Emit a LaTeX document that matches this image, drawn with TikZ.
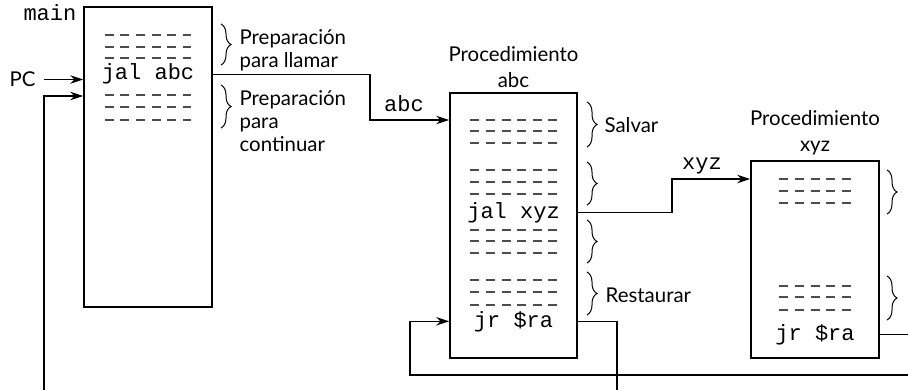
\documentclass[tikz,border=0pt]{standalone}
\usepackage{fontspec}
\setmainfont{Lato}
\setmonofont{Liberation Mono}
\usetikzlibrary{positioning, arrows.meta, decorations.pathreplacing, calc}

\begin{document}
\begin{tikzpicture}[
  x=0.5pt, y=-0.5pt,
  line width=0.65pt,
  every node/.style={inner sep=0pt},
  txt/.style={font=\fontsize{10.2}{11.5}\selectfont, align=left},
  title/.style={font=\fontsize{10.2}{13}\selectfont, align=center},
  code/.style={font=\fontsize{11}{13}\ttfamily},
  prog/.style={
    draw=black, line width=0.75pt, rectangle, minimum width=64pt,
  },
  codedash/.style={draw=black!70, line width=0.65pt,
                   dash pattern=on 4.5pt off 3.3pt},
  grp/.style={decorate, decoration={brace, amplitude=5pt},
              line width=0.5pt},
  arr/.style={-{Stealth[length=6.5pt,width=4.2pt]}},
]
\useasboundingbox (0,0) rectangle (908,390);

% ── Column x-positions (box centres) ───────────────────────────────
\def\cMain{148}
\def\cAbc{513.5}
\def\cXyz{815}

% ── The three code boxes ───────────────────────────────────────────
\node[prog, minimum height=150pt] (mainbox) at (\cMain,157) {};
\node[prog, minimum width=63.5pt, minimum height=132.5pt] (abcbox) at (\cAbc,225.5) {};
\node[prog, minimum height=98.5pt] (xyzbox) at (\cXyz,259.5) {};

\node[title, above=2pt of abcbox] (abctitle) {Procedimiento\\abc};
\node[title, above=2.5pt of xyzbox] (xyztitle) {Procedimiento\\xyz};
\node[code, anchor=base east] (mainlbl) at (77,21) {main};

% ── Instruction lines (dashes stand for code) ──────────────────────
\foreach \yy in {35,47,58,95,107,120}
  \draw[codedash] (\cMain-43.2,\yy) -- ++(86.4,0);
\foreach \yy in {120,131,143,170,182,194,230,241,253,280,292,305}
  \draw[codedash] (\cAbc-43.2,\yy) -- ++(86.4,0);
\foreach \yy in {179,191,203,286,297,310}
  \draw[codedash] (\cXyz-35.7,\yy) -- ++(71.4,0);

\node[code, anchor=base] (jalabc) at (\cMain,80) {jal abc};
\node[code, anchor=base] (jalxyz) at (\cAbc,218) {jal xyz};
\node[code, anchor=base] (jrabc)  at (\cAbc,327) {jr \$ra};
\node[code, anchor=base] (jrxyz)  at (\cXyz,340) {jr \$ra};

% ── Braces and their notes ─────────────────────────────────────────
\draw[grp] (221,24) -- (221,65);
\draw[grp] (221,85) -- (221,128);
\node[txt, anchor=west] (prepcall) at (239,50) {Preparación\\para llamar};
\node[txt, anchor=west] (prepcont) at (239,121) {Preparación\\para\\continuar};

\draw[grp] (587,102) -- (587,147);
\draw[grp] (587,162) -- (587,205);
\draw[grp] (587,220) -- (587,263);
\draw[grp] (587,272) -- (587,315);
\node[txt, anchor=west] (salvar) at (604,125) {Salvar};
\node[txt, anchor=west] (restaurar) at (605,295) {Restaurar};

\draw[grp] (887,170) -- (887,214);
\draw[grp] (887,276) -- (887,320);

% ── PC and the jumps ───────────────────────────────────────────────
\node[txt, inner xsep=4pt] (pc) at (22.5,79.5) {PC};
\draw[arr] (pc) -- (pc -| mainbox.west);

\coordinate (bendA) at (370,120);
\coordinate (bendX) at (672,179);
\draw[arr] (jalabc -| mainbox.east) -| (bendA) -- (abcbox.west |- bendA);
\draw[arr] (jalxyz -| abcbox.east) -| (bendX) -- (xyzbox.west |- bendX);
\node[code, anchor=base] (lblabc) at (404,112) {abc};
\node[code, anchor=base] (lblxyz) at (702,169) {xyz};

% ── Returns (leave the picture at its edges) ───────────────────────
\coordinate (edgeR) at (908,0);
\coordinate (botL) at (44,390);
\coordinate (botA) at (617,390);
\coordinate (retM) at (44,96);
\coordinate (retA) at (410,375);
\draw[arr] (botL) -- (retM) -- (retM -| mainbox.west);
\draw (jrabc -| abcbox.east) -| (botA);
\draw (jrxyz -| xyzbox.east) -- (jrxyz -| edgeR);
\draw[arr] (retA -| edgeR) -- (retA) |- (jrabc -| abcbox.west);

\end{tikzpicture}
\end{document}
